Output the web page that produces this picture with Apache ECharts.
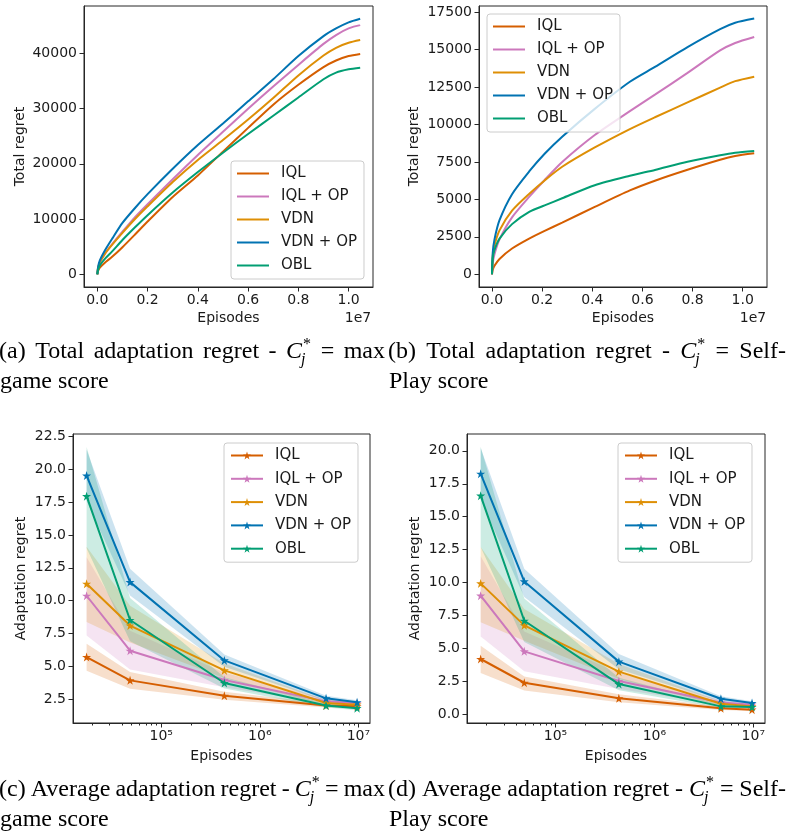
<!DOCTYPE html>
<html>
<head>
<meta charset="utf-8">
<script src="https://cdn.jsdelivr.net/npm/echarts@6.0.0/dist/echarts.min.js"></script>
<style>
    html, body { margin: 0; padding: 0; background: #fff; }
    #main { width: 786px; height: 837px; }
</style>
</head>
<body>
<div id="main"></div>
<script>
// methods and colours (seaborn colorblind)
var methods = ['IQL', 'IQL + OP', 'VDN', 'VDN + OP', 'OBL'];
var palette = ['#d55e00', '#cc78bc', '#de8f05', '#0173b2', '#029e73'];

// (a) total regret, C* = max game score
var episodesA = [0, 3e4, 1e5, 3e5, 6e5, 1e6, 1.5e6, 2e6, 3e6, 4e6, 5e6, 6e6, 7e6, 8e6, 9e6, 9.5e6, 1e7, 1.046e7];
var iqlA    = [0, 600, 1200, 2100, 3200, 4900, 7200, 9550, 14000, 17900, 22200, 26500, 30700, 34300, 37500, 38700, 39500, 39880];
var iqlOpA  = [0, 1100, 2100, 3700, 5500, 7700, 10350, 12700, 17200, 21600, 25800, 29950, 34000, 37900, 41700, 43300, 44500, 45100];
var vdnA    = [0, 1200, 2200, 3700, 5400, 7500, 10000, 12300, 16700, 20700, 24300, 28000, 31900, 36000, 39600, 41000, 41900, 42400];
var vdnOpA  = [0, 1300, 2500, 4300, 6500, 9300, 12000, 14500, 19100, 23400, 27300, 31300, 35300, 39500, 43100, 44500, 45600, 46250];
var oblA    = [0, 800, 1600, 2800, 4200, 6200, 8500, 10700, 14800, 18500, 22000, 25400, 28700, 32000, 35300, 36500, 37100, 37400];

// (b) total regret, C* = self-play score
var episodesB = [0, 3e4, 1e5, 3e5, 8e5, 1.5e6, 2.1e6, 2.8e6, 4.1e6, 5.5e6, 6.5e6, 7.8e6, 9.1e6, 9.7e6, 1.046e7];
var iqlB    = [0, 300, 570, 1020, 1720, 2400, 2900, 3450, 4500, 5600, 6250, 6980, 7650, 7900, 8080];
var iqlOpB  = [0, 740, 1340, 2330, 3800, 5200, 6300, 7500, 9300, 10900, 12000, 13450, 14950, 15450, 15850];
var vdnB    = [0, 1220, 1930, 2930, 4250, 5400, 6270, 7180, 8470, 9700, 10490, 11480, 12470, 12900, 13200];
var vdnOpB  = [0, 1440, 2330, 3610, 5350, 6900, 8050, 9190, 11050, 12860, 13850, 15170, 16370, 16800, 17080];
var oblB    = [0, 1060, 1620, 2380, 3350, 4180, 4600, 5080, 5950, 6580, 6970, 7510, 7950, 8120, 8240];

// (c) / (d) average adaptation regret, mean and shaded band
var episodesC = [17500, 48300, 437000, 4.7e6, 9.7e6];

var iqlC    = [5.7, 3.92, 2.75, 2.0, 1.95];
var iqlOpC  = [10.37, 6.18, 3.95, 2.32, 2.17];
var vdnC    = [11.28, 8.1, 4.68, 2.2, 2.07];
var vdnOpC  = [19.53, 11.41, 5.44, 2.55, 2.25];
var oblC    = [17.96, 8.52, 3.72, 2.0, 1.8];
var iqlLoC   = [4.66, 3.28, 2.45, 1.85, 1.8],  iqlHiC   = [6.71, 4.55, 3.05, 2.15, 2.1];
var iqlOpLoC = [7.34, 4.75, 3.4, 2.15, 2.0],   iqlOpHiC = [13.3, 7.7, 4.5, 2.5, 2.35];
var vdnLoC   = [8.36, 6.8, 4.1, 2.0, 1.9],     vdnHiC   = [14.1, 9.6, 5.2, 2.4, 2.25];
var vdnOpLoC = [17.6, 10.39, 4.95, 2.35, 2.1], vdnOpHiC = [21.5, 12.42, 5.9, 2.75, 2.4];
var oblLoC   = [14.0, 6.9, 3.3, 1.85, 1.65],   oblHiC   = [21.7, 10.2, 4.15, 2.15, 1.95];

var iqlD    = [4.22, 2.42, 1.24, 0.48, 0.38];
var iqlOpD  = [9.02, 4.8, 2.55, 0.93, 0.76];
var vdnD    = [9.95, 6.77, 3.26, 0.83, 0.63];
var vdnOpD  = [18.26, 10.1, 4.02, 1.21, 0.88];
var oblD    = [16.6, 7.12, 2.32, 0.63, 0.58];
var iqlLoD   = [3.16, 1.84, 0.95, 0.35, 0.28], iqlHiD   = [5.23, 2.9, 1.55, 0.62, 0.5];
var iqlOpLoD = [5.93, 3.3, 1.95, 0.75, 0.6],   iqlOpHiD = [12.0, 6.3, 3.15, 1.1, 0.92];
var vdnLoD   = [7.0, 5.6, 2.7, 0.65, 0.5],     vdnHiD   = [12.7, 8.0, 3.85, 1.0, 0.78];
var vdnOpLoD = [16.3, 8.91, 3.45, 1.0, 0.75],  vdnOpHiD = [20.2, 11.06, 4.6, 1.4, 1.02];
var oblLoD   = [12.7, 5.5, 1.85, 0.5, 0.45],   oblHiD   = [20.3, 8.8, 2.8, 0.78, 0.7];

// tick labels
var xTicksLin = [0, 2e6, 4e6, 6e6, 8e6, 1e7];
var yTicksA = [0, 10000, 20000, 30000, 40000];
var yTicksB = [0, 2500, 5000, 7500, 10000, 12500, 15000, 17500];
var yTicksC = [2.5, 5, 7.5, 10, 12.5, 15, 17.5, 20, 22.5];
var yTicksD = [0, 2.5, 5, 7.5, 10, 12.5, 15, 17.5, 20];
var logTicks = [1e5, 1e6, 1e7];
var logMinor = [2e4, 3e4, 4e4, 5e4, 6e4, 7e4, 8e4, 9e4, 2e5, 3e5, 4e5, 5e5, 6e5, 7e5, 8e5, 9e5,
                2e6, 3e6, 4e6, 5e6, 6e6, 7e6, 8e6, 9e6];

var meansA = [iqlA, iqlOpA, vdnA, vdnOpA, oblA];
var meansB = [iqlB, iqlOpB, vdnB, vdnOpB, oblB];
var meansC = [iqlC, iqlOpC, vdnC, vdnOpC, oblC];
var lowC = [iqlLoC, iqlOpLoC, vdnLoC, vdnOpLoC, oblLoC];
var highC = [iqlHiC, iqlOpHiC, vdnHiC, vdnOpHiC, oblHiC];
var meansD = [iqlD, iqlOpD, vdnD, vdnOpD, oblD];
var lowD = [iqlLoD, iqlOpLoD, vdnLoD, vdnOpLoD, oblLoD];
var highD = [iqlHiD, iqlOpHiD, vdnHiD, vdnOpHiD, oblHiD];

var FONT = 'DejaVu Sans';
var INK = '#1a1a1a';
var SPINE = '#262626';
var STAR = 'path://M50,0L61.2,34.5L97.6,34.5L68.2,55.9L79.4,90.5L50,69.1L20.6,90.5L31.8,55.9L2.4,34.5L38.8,34.5Z';
var SUP = { '4': '\u2074', '5': '\u2075', '6': '\u2076', '7': '\u2077' };

function zip(xs, ys) {
    return xs.map(function(x, i) { return [x, ys[i]]; });
}

function gridBox(left, top, width, height) {
    return { left: left, top: top, width: width, height: height, show: true,
             borderColor: SPINE, borderWidth: 1, containLabel: false };
}

function valueAxis(dim, grid, min, max, ticks, fmt, name, gap) {
    var ax = {
        type: 'value', gridIndex: grid, min: min, max: max,
        axisLine: { show: true, onZero: false, lineStyle: { color: SPINE, width: 1 } },
        axisTick: { show: true, customValues: ticks, length: 4.5, lineStyle: { color: SPINE } },
        axisLabel: { customValues: ticks, formatter: fmt, fontFamily: FONT, fontSize: 14,
                     color: INK, margin: dim === 'x' ? 6 : 7 },
        splitLine: { show: false },
        name: name, nameLocation: 'middle', nameGap: gap,
        nameTextStyle: { fontFamily: FONT, fontSize: 14, color: INK }
    };
    ax.position = dim === 'x' ? 'bottom' : 'left';
    return ax;
}

function logAxis(grid, minor) {
    var ax = {
        type: 'log', logBase: 10, gridIndex: grid, min: 12735, max: 13120000, position: 'bottom',
        axisLine: { show: !minor, onZero: false, lineStyle: { color: SPINE } },
        axisTick: { show: true, customValues: minor ? logMinor : logTicks, length: minor ? 2.5 : 4.5,
                    lineStyle: { color: SPINE } },
        axisLabel: { show: !minor, customValues: logTicks, fontFamily: FONT, fontSize: 14, color: INK, margin: 6,
                     formatter: function(v) { return '10' + SUP[String(Math.round(Math.log10(v)))]; } },
        splitLine: { show: false }, minorTick: { show: false }
    };
    if (!minor) {
        ax.name = 'Episodes';
        ax.nameLocation = 'middle';
        ax.nameGap = 26;
        ax.nameTextStyle = { fontFamily: FONT, fontSize: 14, color: INK };
    }
    return ax;
}

function legendBox(prefix, left, top, marker) {
    var lg = {
        orient: 'vertical', left: left, top: top, selectedMode: false,
        data: methods.map(function(m) { return prefix + m; }),
        formatter: function(n) { return n.slice(2); },
        itemWidth: 32, itemHeight: marker ? 10 : 2, itemGap: marker ? 8.3 : 8,
        padding: [5, 7, 6, 6],
        textStyle: { fontFamily: FONT, fontSize: 15, color: INK, lineHeight: 15, padding: [0, 0, 0, 7] },
        backgroundColor: 'rgba(255,255,255,0.8)', borderColor: '#cccccc', borderWidth: 1, borderRadius: 3
    };
    if (!marker) lg.icon = 'rect';
    return lg;
}

var series = [];
function curves(prefix, axisIdx, xs, means) {
    means.forEach(function(ys, i) {
        series.push({
            type: 'line', name: prefix + methods[i], xAxisIndex: axisIdx, yAxisIndex: axisIdx,
            data: zip(xs, ys), symbol: 'none', smooth: 0.25,
            lineStyle: { width: 2, color: palette[i] }, itemStyle: { color: palette[i] },
            z: 3 + i * 0.01, silent: true
        });
    });
}

// shaded band between lo and hi, one polygon through the axis scales
function bandRender(color) {
    return function(params, api) {
        if (params.dataIndex !== 0) return;
        var n = params.dataInsideLength;
        var up = [], dn = [];
        for (var k = 0; k < n; k++) {
            up.push(api.coord([api.value(0, k), api.value(2, k)]));
            dn.unshift(api.coord([api.value(0, k), api.value(1, k)]));
        }
        return { type: 'polygon', shape: { points: up.concat(dn) },
                 style: { fill: color, opacity: 0.2 }, silent: true };
    };
}

function bands(prefix, axisIdx, xs, means, lows, highs) {
    means.forEach(function(ys, i) {
        series.push({
            type: 'custom', name: prefix + 'band' + i, coordinateSystem: 'cartesian2d',
            xAxisIndex: axisIdx, yAxisIndex: axisIdx,
            data: xs.map(function(x, k) { return [x, lows[i][k], highs[i][k]]; }),
            encode: { x: 0, y: [1, 2] },
            renderItem: bandRender(palette[i]), z: 2, silent: true
        });
    });
    means.forEach(function(ys, i) {
        series.push({
            type: 'line', name: prefix + methods[i], xAxisIndex: axisIdx, yAxisIndex: axisIdx,
            data: zip(xs, ys), symbol: STAR, symbolSize: 9, showSymbol: true,
            lineStyle: { width: 2, color: palette[i] }, itemStyle: { color: palette[i] },
            z: 3 + i * 0.01, silent: true
        });
    });
}

curves('a:', 0, episodesA, meansA);
curves('b:', 1, episodesB, meansB);
bands('c:', 2, episodesC, meansC, lowC, highC);
bands('d:', 3, episodesC, meansD, lowD, highD);

function fmtE7(v) { return (v / 1e7).toFixed(1); }
function fmt1(v) { return v.toFixed(1); }
function fmt0(v) { return String(v); }

// captions: justified serif lines with C*_j
var measureCtx = document.createElement('canvas').getContext('2d');
function textWidth(s, font) { measureCtx.font = font; return measureCtx.measureText(s).width; }
var CAP = 24;
var capFont = CAP + 'px "Liberation Serif"';
var capItalic = 'italic ' + CAP + 'px "Liberation Serif"';
var capSmall = '16px "Liberation Serif"';
var capSmallIt = 'italic 16px "Liberation Serif"';
function txt(x, y, s, font) {
    return { type: 'text', x: x, y: y, silent: true,
             style: { text: s, font: font, fill: '#000', align: 'left', verticalAlign: 'middle' } };
}
function caption(x0, x1, y, words, second) {
    var wc = textWidth('C', capItalic);
    var ws = Math.max(textWidth('*', capSmall), textWidth('j', capSmallIt));
    var widths = words.map(function(w) { return w === 'C' ? wc + ws + 1 : textWidth(w, capFont); });
    var total = widths.reduce(function(a, b) { return a + b; }, 0);
    var gap = (x1 - x0 - total) / (words.length - 1);
    var out = [], x = x0;
    words.forEach(function(w, i) {
        if (w === 'C') {
            out.push(txt(x, y, 'C', capItalic));
            out.push(txt(x + wc + 1, y - 7, '*', capSmall));
            out.push(txt(x + wc - 1, y + 8, 'j', capSmallIt));
        } else {
            out.push(txt(x, y, w, capFont));
        }
        x += widths[i] + gap;
    });
    out.push(txt(x0 + 1, y + 30, second, capFont));
    return out;
}

var graphics = [
    { type: 'text', x: 358, y: 318, silent: true,
      style: { text: '1e7', font: '14px "DejaVu Sans"', fill: INK, align: 'center', verticalAlign: 'middle' } },
    { type: 'text', x: 753, y: 318, silent: true,
      style: { text: '1e7', font: '14px "DejaVu Sans"', fill: INK, align: 'center', verticalAlign: 'middle' } }
].concat(
    caption(-1, 385, 352, ['(a)', 'Total', 'adaptation', 'regret', '-', 'C', '=', 'max'], 'game score'),
    caption(388, 786, 352, ['(b)', 'Total', 'adaptation', 'regret', '-', 'C', '=', 'Self-'], 'Play score'),
    caption(-1, 385, 790, ['(c)', 'Average', 'adaptation', 'regret', '-', 'C', '=', 'max'], 'game score'),
    caption(388, 786, 790, ['(d)', 'Average', 'adaptation', 'regret', '-', 'C', '=', 'Self-'], 'Play score')
);

var myChart = echarts.init(document.getElementById('main'), null, { renderer: 'canvas' });
var option = {
    animation: false,
    backgroundColor: '#ffffff',
    grid: [
        gridBox(84, 6, 289, 281),
        gridBox(479, 6, 288, 281),
        gridBox(73, 434, 297, 289),
        gridBox(467, 434, 298, 289)
    ],
    xAxis: [
        valueAxis('x', 0, -530000, 10970000, xTicksLin, fmtE7, 'Episodes', 24),
        valueAxis('x', 1, -518000, 10970000, xTicksLin, fmtE7, 'Episodes', 24),
        logAxis(2, false),
        logAxis(3, false),
        logAxis(2, true),
        logAxis(3, true)
    ],
    yAxis: [
        valueAxis('y', 0, -2300, 48560, yTicksA, fmt0, 'Total regret', 57),
        valueAxis('y', 1, -850, 17920, yTicksB, fmt0, 'Total regret', 58),
        valueAxis('y', 2, 0.67, 22.7, yTicksC, fmt1, 'Adaptation regret', 45),
        valueAxis('y', 3, -0.63, 21.27, yTicksD, fmt1, 'Adaptation regret', 45)
    ],
    legend: [
        legendBox('a:', 231, 161, false),
        legendBox('b:', 487, 14, false),
        legendBox('c:', 224, 443, true),
        legendBox('d:', 618, 443, true)
    ],
    series: series,
    graphic: graphics
};
myChart.setOption(option);
window.onresize = function() { myChart.resize(); };
</script>
</body>
</html>
